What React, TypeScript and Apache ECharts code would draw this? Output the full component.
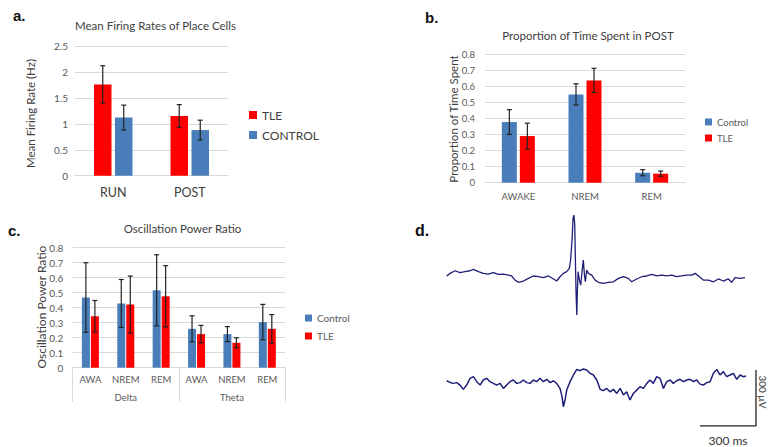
import React, { useEffect, useRef } from "react";
import * as echarts from "echarts";

// ---------- Panel a: Mean firing rates ----------
const catsA = ["RUN", "POST"];
const tleA = [1.76, 1.15];
const tleAErr = [0.36, 0.22];
const ctrlA = [1.12, 0.88];
const ctrlAErr = [0.24, 0.19];

// ---------- Panel b: Proportion of time spent ----------
const catsB = ["AWAKE", "NREM", "REM"];
const ctrlB = [0.377, 0.549, 0.062];
const ctrlBErr = [0.077, 0.066, 0.019];
const tleB = [0.29, 0.636, 0.056];
const tleBErr = [0.08, 0.075, 0.016];

// ---------- Panel c: Oscillation power ratio ----------
const catsC = ["AWA", "NREM", "REM", "AWA", "NREM", "REM"];
const bandsC = ["Delta", "Theta"];
const ctrlC = [0.468, 0.428, 0.516, 0.259, 0.224, 0.304];
const ctrlCErr = [0.232, 0.16, 0.237, 0.087, 0.05, 0.118];
const tleC = [0.343, 0.421, 0.476, 0.224, 0.166, 0.259];
const tleCErr = [0.105, 0.19, 0.204, 0.058, 0.033, 0.095];

// ---------- Panel d: LFP traces [ms, µV] ----------
const topTrace: [number, number][] = [
  [0, -5], [18, 9], [45, 23], [71, 13], [98, 18], [125, 23], [143, 30], [170, 18],
  [196, 9], [223, 5], [250, 13], [277, 4], [304, 5], [330, 0], [348, -5], [366, -27],
  [384, -39], [411, -32], [438, -18], [464, -5], [491, -9], [518, -14], [545, -5],
  [572, -21], [589, -32], [607, -9], [625, 9], [643, 18], [657, 36], [664, 80],
  [672, 196], [677, 304], [682, 321], [686, 268], [689, 107], [693, -89], [697, -214],
  [700, -89], [704, 18], [711, -27], [718, -54], [725, 18], [732, 80], [738, 0],
  [743, -36], [750, 27], [759, 9], [777, 0], [795, -27], [813, -39], [839, -45],
  [866, -39], [893, -36], [920, -18], [947, -9], [973, -18], [991, -36], [1018, -21],
  [1045, -9], [1072, -5], [1098, 4], [1125, -4], [1152, 0], [1179, -5], [1206, 0],
  [1232, -9], [1259, -4], [1286, 0], [1313, 0], [1331, 9], [1348, -4], [1375, -27],
  [1402, -27], [1429, -36], [1456, -21], [1482, -32], [1509, -21], [1527, -39],
  [1545, -14], [1572, -18], [1598, -14],
];
const bottomTrace: [number, number][] = [
  [0, 5], [18, -4], [36, -9], [54, -5], [71, -18], [89, -41], [107, -18], [125, 18],
  [143, 27], [161, 0], [179, -18], [196, 9], [214, 18], [232, 0], [250, -9], [268, -18],
  [286, -9], [304, -36], [321, -18], [339, 0], [357, 9], [375, -9], [393, -5], [411, 9],
  [429, -5], [447, -9], [464, 9], [482, 0], [500, 18], [518, 0], [536, 13], [554, -5],
  [572, 5], [589, -9], [607, -36], [618, -80], [625, -134], [634, -98], [643, -45],
  [661, 0], [679, 36], [697, 66], [714, 59], [732, 68], [750, 63], [768, 45], [786, 36],
  [804, 9], [822, -41], [839, -48], [857, -36], [875, -54], [893, -41], [911, -63],
  [929, -36], [947, -71], [964, -54], [982, -98], [1000, -63], [1018, -45], [1036, -27],
  [1054, -36], [1072, -9], [1089, 9], [1107, -9], [1125, 27], [1143, 18], [1161, -36],
  [1179, 0], [1197, 9], [1214, -9], [1232, 5], [1250, 13], [1268, 0], [1286, 9],
  [1304, 13], [1322, 0], [1339, 9], [1357, -13], [1375, -18], [1393, -5], [1411, 0],
  [1429, 45], [1447, 66], [1464, 36], [1482, 54], [1500, 27], [1518, 36], [1536, 45],
  [1554, 13], [1572, 36], [1589, 27], [1604, 30],
];
const scaleBarMs = 300;
const scaleBarUv = 300;
const scaleBarOrigin: [number, number] = [1357, -237];

const RED = "#ff0000";
const BLUE = "#4a7ebb";
const GRID = "#d9d9d9";
const FONT = "Lato, 'Liberation Sans', sans-serif";

function errSeries(name: string, xi: number, yi: number, means: number[], errs: number[], offset: number) {
  return {
    type: "custom",
    name,
    xAxisIndex: xi,
    yAxisIndex: yi,
    z: 10,
    silent: true,
    encode: { x: 0, y: 1 },
    data: means.map((m, i) => [i, m, errs[i]]),
    renderItem: (params: any, api: any) => {
      const i = api.value(0);
      const m = api.value(1);
      const e = api.value(2);
      const p = api.coord([i, m + e]);
      const q = api.coord([i, m - e]);
      const x = p[0] + offset;
      const cap = 2.5;
      const style = { stroke: "#222", lineWidth: 1.2 };
      return {
        type: "group",
        children: [
          { type: "line", shape: { x1: x, y1: p[1], x2: x, y2: q[1] }, style },
          { type: "line", shape: { x1: x - cap, y1: p[1], x2: x + cap, y2: p[1] }, style },
          { type: "line", shape: { x1: x - cap, y1: q[1], x2: x + cap, y2: q[1] }, style },
        ],
      };
    },
  };
}

function txt(text: string, x: number, y: number, size: number, opts: any = {}) {
  return {
    type: "text",
    x,
    y,
    rotation: opts.rotation || 0,
    style: {
      text,
      fontSize: size,
      fontFamily: opts.family || FONT,
      fontWeight: opts.weight || "normal",
      fill: opts.color || "#404040",
      align: opts.align || "center",
      verticalAlign: "middle",
    },
  };
}

function valueY(gridIndex: number, max: number, interval: number, fontSize: number, margin: number) {
  return {
    gridIndex,
    type: "value",
    min: 0,
    max,
    interval,
    axisLine: { show: false },
    axisTick: { show: false },
    splitLine: { lineStyle: { color: GRID, width: 1 } },
    axisLabel: { fontSize, color: "#595959", margin, fontFamily: FONT },
  };
}

export default function App() {
  const ref = useRef<HTMLDivElement>(null);
  useEffect(() => {
    if (!ref.current) return;
    const chart = echarts.init(ref.current, undefined, { renderer: "svg" });
    const sb = scaleBarOrigin;
    const option: any = {
      animation: false,
      textStyle: { fontFamily: FONT },
      grid: [
        { left: 75, top: 46, width: 153, height: 129.7 },
        { left: 485, top: 54, width: 200, height: 128.7 },
        { left: 72.7, top: 247.7, width: 212.3, height: 120 },
        { left: 446.7, top: 209.7, width: 317.3, height: 130.7 },
        { left: 446.7, top: 316.4, width: 317.3, height: 130.7 },
      ],
      xAxis: [
        {
          gridIndex: 0, type: "category", data: catsA,
          axisLine: { lineStyle: { color: GRID } }, axisTick: { show: false },
          axisLabel: { fontSize: 12.5, color: "#404040", margin: 10, fontFamily: FONT },
        },
        {
          gridIndex: 1, type: "category", data: catsB,
          axisLine: { lineStyle: { color: GRID } }, axisTick: { show: false },
          axisLabel: { fontSize: 9.5, color: "#595959", margin: 9, fontFamily: FONT },
        },
        {
          gridIndex: 2, type: "category", data: catsC,
          axisLine: { lineStyle: { color: GRID } }, axisTick: { show: false },
          axisLabel: { fontSize: 9.5, color: "#595959", margin: 7, interval: 0, fontFamily: FONT },
        },
        {
          gridIndex: 2, type: "category", data: bandsC, position: "bottom",
          axisLine: { show: false },
          axisTick: { show: true, length: 34, lineStyle: { color: GRID } },
          axisLabel: { fontSize: 9.5, color: "#595959", margin: 25, fontFamily: FONT },
        },
        { gridIndex: 3, type: "value", min: 0, max: 1700, show: false },
        { gridIndex: 4, type: "value", min: 0, max: 1700, show: false },
      ],
      yAxis: [
        valueY(0, 2.5, 0.5, 10, 7),
        valueY(1, 0.8, 0.1, 9.5, 10),
        valueY(2, 0.8, 0.1, 10, 9.5),
        { gridIndex: 3, type: "value", min: -350, max: 350, show: false },
        { gridIndex: 4, type: "value", min: -350, max: 350, show: false },
      ],
      legend: [
        {
          data: ["TLE", "CONTROL"], orient: "vertical", left: 244, top: 104,
          itemWidth: 8, itemHeight: 8, itemGap: 8, icon: "rect",
          textStyle: { fontSize: 12, color: "#404040", fontFamily: FONT }, selectedMode: false,
        },
        {
          data: ["Control", "TLE"], orient: "vertical", left: 700, top: 112,
          itemWidth: 7, itemHeight: 7, itemGap: 6, itemTextGap: 2, icon: "rect",
          textStyle: { fontSize: 9.5, color: "#595959", fontFamily: FONT }, selectedMode: false,
        },
        {
          data: ["Control", "TLE"], orient: "vertical", left: 300, top: 308,
          itemWidth: 7, itemHeight: 7, itemGap: 8, itemTextGap: 2, icon: "rect",
          textStyle: { fontSize: 10, color: "#595959", fontFamily: FONT }, selectedMode: false,
        },
      ],
      series: [
        // panel a
        { type: "bar", name: "TLE", xAxisIndex: 0, yAxisIndex: 0, data: tleA, barWidth: 17.5, barGap: "20%", itemStyle: { color: RED } },
        { type: "bar", name: "CONTROL", xAxisIndex: 0, yAxisIndex: 0, data: ctrlA, barWidth: 17.5, barGap: "20%", itemStyle: { color: BLUE } },
        errSeries("errA1", 0, 0, tleA, tleAErr, -10.5),
        errSeries("errA2", 0, 0, ctrlA, ctrlAErr, 10.5),
        // panel b
        { type: "bar", name: "Control", xAxisIndex: 1, yAxisIndex: 1, data: ctrlB, barWidth: 15, barGap: "20%", itemStyle: { color: BLUE } },
        { type: "bar", name: "TLE", xAxisIndex: 1, yAxisIndex: 1, data: tleB, barWidth: 15, barGap: "20%", itemStyle: { color: RED } },
        errSeries("errB1", 1, 1, ctrlB, ctrlBErr, -9),
        errSeries("errB2", 1, 1, tleB, tleBErr, 9),
        // panel c
        { type: "bar", name: "Control", xAxisIndex: 2, yAxisIndex: 2, data: ctrlC, barWidth: 8, barGap: "12.5%", itemStyle: { color: BLUE } },
        { type: "bar", name: "TLE", xAxisIndex: 2, yAxisIndex: 2, data: tleC, barWidth: 8, barGap: "12.5%", itemStyle: { color: RED } },
        errSeries("errC1", 2, 2, ctrlC, ctrlCErr, -4.5),
        errSeries("errC2", 2, 2, tleC, tleCErr, 4.5),
        // panel d
        {
          type: "line", name: "top trace", xAxisIndex: 4, yAxisIndex: 3, data: topTrace,
          symbol: "none", silent: true, lineStyle: { color: "#1f1f78", width: 1.3 },
        },
        {
          type: "line", name: "bottom trace", xAxisIndex: 5, yAxisIndex: 4, data: bottomTrace,
          symbol: "none", silent: true, lineStyle: { color: "#1f1f78", width: 1.5 },
        },
        {
          type: "line", name: "scale bar", xAxisIndex: 5, yAxisIndex: 4,
          data: [
            [sb[0], sb[1]],
            [sb[0] + scaleBarMs, sb[1]],
            [sb[0] + scaleBarMs, sb[1] + scaleBarUv],
          ],
          symbol: "none", silent: true, lineStyle: { color: "#222", width: 1.3 },
        },
      ],
      graphic: [
        txt("a.", 13, 15, 15, { weight: "bold", color: "#111", align: "left", family: "'Liberation Sans', sans-serif" }),
        txt("b.", 425, 17, 15, { weight: "bold", color: "#111", align: "left", family: "'Liberation Sans', sans-serif" }),
        txt("c.", 8, 230, 15, { weight: "bold", color: "#111", align: "left", family: "'Liberation Sans', sans-serif" }),
        txt("d.", 415, 230, 16, { weight: "bold", color: "#111", align: "left", family: "'Liberation Sans', sans-serif" }),
        txt("Mean Firing Rates of Place Cells", 155.5, 25, 11.5),
        txt("Proportion of Time Spent in POST", 588, 35, 11.5),
        txt("Oscillation Power Ratio", 182.5, 228, 11.5),
        txt("Mean Firing Rate (Hz)", 30, 113.5, 11.5, { rotation: Math.PI / 2 }),
        txt("Proportion of Time Spent", 453, 119, 11.5, { rotation: Math.PI / 2 }),
        txt("Oscillation Power Ratio", 41, 307, 12, { rotation: Math.PI / 2 }),
        txt("300 ms", 728, 440, 12, { color: "#333" }),
        txt("300 µV", 762.5, 392, 10, { color: "#333", rotation: -Math.PI / 2 }),
      ],
    };
    chart.setOption(option);
    return () => chart.dispose();
  }, []);
  return (
    <div
      ref={ref}
      style={{ position: "fixed", left: 0, top: 0, width: 768, height: 447, background: "#fff" }}
    />
  );
}
